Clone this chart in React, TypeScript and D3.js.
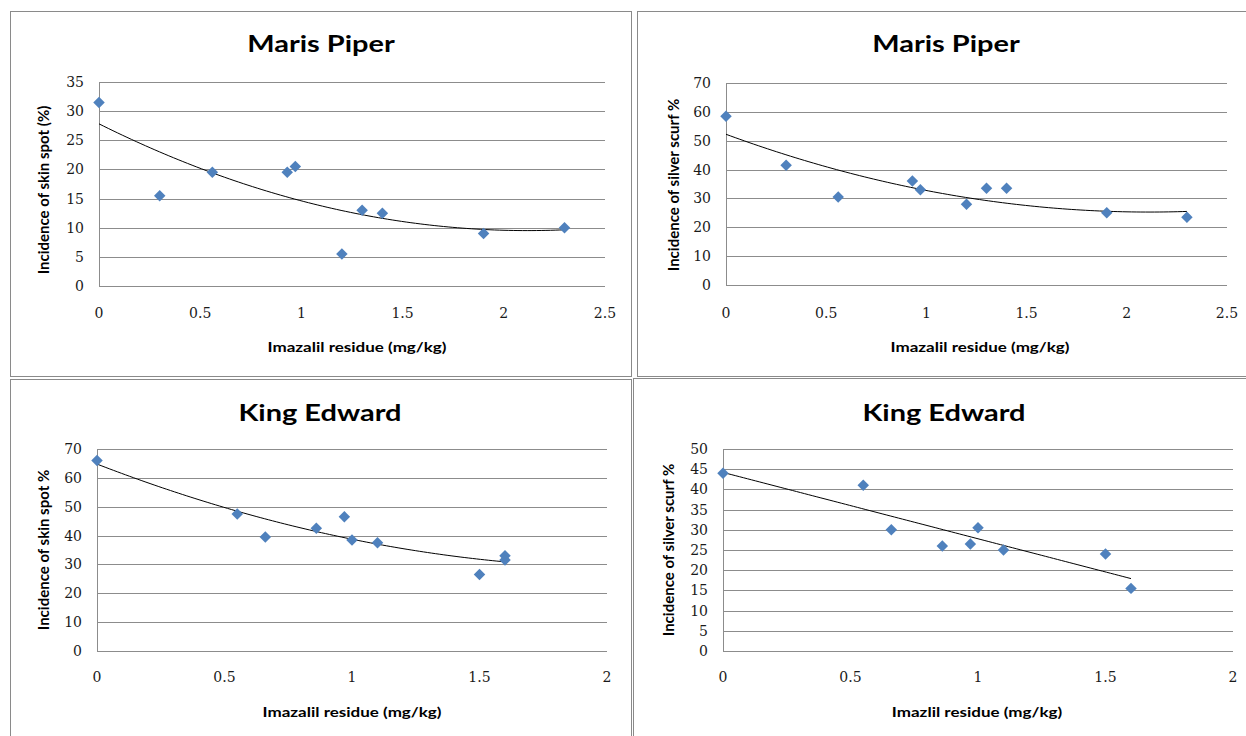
import React from "react";
import * as d3 from "d3";

// ---------- data ----------
const mpSkinX = [0, 0.3, 0.56, 0.93, 0.97, 1.2, 1.3, 1.4, 1.9, 2.3];
const mpSkinY = [31.5, 15.5, 19.5, 19.5, 20.5, 5.5, 13, 12.5, 9, 10];

const mpScurfX = [0, 0.3, 0.56, 0.93, 0.97, 1.2, 1.3, 1.4, 1.9, 2.3];
const mpScurfY = [58.5, 41.5, 30.5, 36, 33, 28, 33.5, 33.5, 25, 23.5];

const keSkinX = [0, 0.55, 0.66, 0.86, 0.97, 1.0, 1.1, 1.5, 1.6, 1.6];
const keSkinY = [66, 47.5, 39.5, 42.5, 46.5, 38.5, 37.5, 26.5, 33, 31.5];

const keScurfX = [0, 0.55, 0.66, 0.86, 0.97, 1.0, 1.1, 1.5, 1.6];
const keScurfY = [44, 41, 30, 26, 26.5, 30.5, 25, 24, 15.5];

const titles = ["Maris Piper", "Maris Piper", "King Edward", "King Edward"];
const yTitles = [
  "Incidence of skin spot (%)",
  "Incidence of silver scurf %",
  "Incidence of skin spot %",
  "Incidence of silver scurf %",
];
const xTitles = [
  "Imazalil residue (mg/kg)",
  "Imazalil residue (mg/kg)",
  "Imazalil residue (mg/kg)",
  "Imazlil residue (mg/kg)",
];
const xTicksA = [0, 0.5, 1, 1.5, 2, 2.5];
const xTicksB = [0, 0.5, 1, 1.5, 2];
const yTicks35 = [0, 5, 10, 15, 20, 25, 30, 35];
const yTicks70 = [0, 10, 20, 30, 40, 50, 60, 70];
const yTicks50 = [0, 5, 10, 15, 20, 25, 30, 35, 40, 45, 50];
const trendOrders = [2, 2, 2, 1];

// ---------- least squares fit ----------
function polyFit(xs: number[], ys: number[], order: number): number[] {
  const n = order + 1;
  const A: number[][] = Array.from({ length: n }, () => new Array(n + 1).fill(0));
  for (let i = 0; i < xs.length; i++) {
    for (let r = 0; r < n; r++) {
      for (let c = 0; c < n; c++) A[r][c] += Math.pow(xs[i], r + c);
      A[r][n] += ys[i] * Math.pow(xs[i], r);
    }
  }
  for (let p = 0; p < n; p++) {
    let max = p;
    for (let r = p + 1; r < n; r++) if (Math.abs(A[r][p]) > Math.abs(A[max][p])) max = r;
    [A[p], A[max]] = [A[max], A[p]];
    for (let r = 0; r < n; r++) {
      if (r === p) continue;
      const f = A[r][p] / A[p][p];
      for (let c = p; c <= n; c++) A[r][c] -= f * A[p][c];
    }
  }
  return A.map((row, i) => row[n] / row[i]);
}

type PanelCfg = {
  box: [number, number, number, number];
  plot: { x0: number; x1: number; yTop: number; yBot: number };
  xMax: number;
  yMax: number;
  xTicks: number[];
  yTicks: number[];
  xs: number[];
  ys: number[];
  titleX: number;
  titleY: number;
  yTitleX: number;
  yTitleY: number;
  xTickY: number;
  xTitleX: number;
  xTitleY: number;
};

const panels: PanelCfg[] = [
  {
    box: [10, 11, 621, 365],
    plot: { x0: 99, x1: 605, yTop: 82, yBot: 286 },
    xMax: 2.5, yMax: 35, xTicks: xTicksA, yTicks: yTicks35,
    xs: mpSkinX, ys: mpSkinY,
    titleX: 321, titleY: 43, yTitleX: 43, yTitleY: 190, xTickY: 313, xTitleX: 357, xTitleY: 347,
  },
  {
    box: [637, 11, 640, 365],
    plot: { x0: 726, x1: 1227, yTop: 83, yBot: 285 },
    xMax: 2.5, yMax: 70, xTicks: xTicksA, yTicks: yTicks70,
    xs: mpScurfX, ys: mpScurfY,
    titleX: 946, titleY: 43, yTitleX: 673, yTitleY: 185, xTickY: 313, xTitleX: 980, xTitleY: 347,
  },
  {
    box: [10, 379, 621, 400],
    plot: { x0: 97, x1: 607, yTop: 449, yBot: 651 },
    xMax: 2, yMax: 70, xTicks: xTicksB, yTicks: yTicks70,
    xs: keSkinX, ys: keSkinY,
    titleX: 320, titleY: 412, yTitleX: 43, yTitleY: 550, xTickY: 677, xTitleX: 352, xTitleY: 712,
  },
  {
    box: [633, 378, 640, 400],
    plot: { x0: 723, x1: 1233, yTop: 449, yBot: 651 },
    xMax: 2, yMax: 50, xTicks: xTicksB, yTicks: yTicks50,
    xs: keScurfX, ys: keScurfY,
    titleX: 944, titleY: 412, yTitleX: 668, yTitleY: 550, xTickY: 677, xTitleX: 977, xTitleY: 712,
  },
];

const BLUE = "#4F81BD";
const GRID = "#8c8c8c";
const sansBold = "Lato, 'Open Sans', sans-serif";
const serif = "'DejaVu Serif', 'Liberation Serif', serif";
const STRETCH = 1.26;

function Panel({ cfg, idx }: { cfg: PanelCfg; idx: number }) {
  const { plot } = cfg;
  const x = d3.scaleLinear().domain([0, cfg.xMax]).range([plot.x0, plot.x1]);
  const y = d3.scaleLinear().domain([0, cfg.yMax]).range([plot.yBot, plot.yTop]);
  const coef = polyFit(cfg.xs, cfg.ys, trendOrders[idx]);
  const xMaxData = d3.max(cfg.xs) as number;
  const samples = d3.range(0, 101).map((i) => (i / 100) * xMaxData);
  const line = d3
    .line<number>()
    .x((d) => x(d))
    .y((d) => y(coef.reduce((s, c, k) => s + c * Math.pow(d, k), 0)));
  const diamond = d3.symbol().type(d3.symbolSquare).size(66)() as string;
  const [bx, by, bw, bh] = cfg.box;
  return (
    <g>
      <rect x={bx + 0.5} y={by + 0.5} width={bw} height={bh} fill="white" stroke="#8a8a8a" strokeWidth={1} />
      <text transform={`translate(${cfg.titleX},${cfg.titleY}) scale(${STRETCH},1)`} textAnchor="middle"
        dominantBaseline="central" fontFamily={sansBold} fontWeight="bold" fontSize={23} fill="#000">
        {titles[idx]}
      </text>
      {cfg.yTicks.map((t) => (
        <line key={"g" + t} x1={plot.x0} x2={plot.x1} y1={Math.round(y(t)) + 0.5} y2={Math.round(y(t)) + 0.5}
          stroke={GRID} strokeWidth={1} />
      ))}
      <line x1={plot.x0 + 0.5} x2={plot.x0 + 0.5} y1={plot.yTop} y2={plot.yBot} stroke={GRID} strokeWidth={1} />
      {cfg.yTicks.map((t) => (
        <text key={"yt" + t} x={plot.x0 - 15} y={y(t)} textAnchor="end" dominantBaseline="central"
          fontFamily={serif} fontSize={14} fill="#1a1a1a">
          {t}
        </text>
      ))}
      {cfg.xTicks.map((t) => (
        <text key={"xt" + t} x={x(t)} y={cfg.xTickY} textAnchor="middle" dominantBaseline="central"
          fontFamily={serif} fontSize={14} fill="#1a1a1a">
          {t}
        </text>
      ))}
      <text transform={`translate(${cfg.xTitleX},${cfg.xTitleY}) scale(${STRETCH},1)`} textAnchor="middle"
        dominantBaseline="central" fontFamily={sansBold} fontWeight="bold" fontSize={13.5} fill="#000">
        {xTitles[idx]}
      </text>
      <text transform={`translate(${cfg.yTitleX},${cfg.yTitleY}) rotate(-90)`} textAnchor="middle"
        dominantBaseline="central" fontFamily={sansBold} fontWeight="bold" fontSize={15} fill="#000">
        {yTitles[idx]}
      </text>
      <path d={line(samples) as string} fill="none" stroke="#000" strokeWidth={1} />
      {cfg.xs.map((xv, i) => (
        <path key={"p" + i} d={diamond} fill={BLUE}
          transform={`translate(${x(xv)},${y(cfg.ys[i])}) rotate(45)`} />
      ))}
    </g>
  );
}

export default function App() {
  return (
    <svg width={1246} height={736} style={{ position: "absolute", left: 0, top: 0, background: "#fff" }}>
      <rect x={0} y={0} width={1246} height={736} fill="#fff" />
      {panels.map((p, i) => (
        <Panel key={i} cfg={p} idx={i} />
      ))}
    </svg>
  );
}
